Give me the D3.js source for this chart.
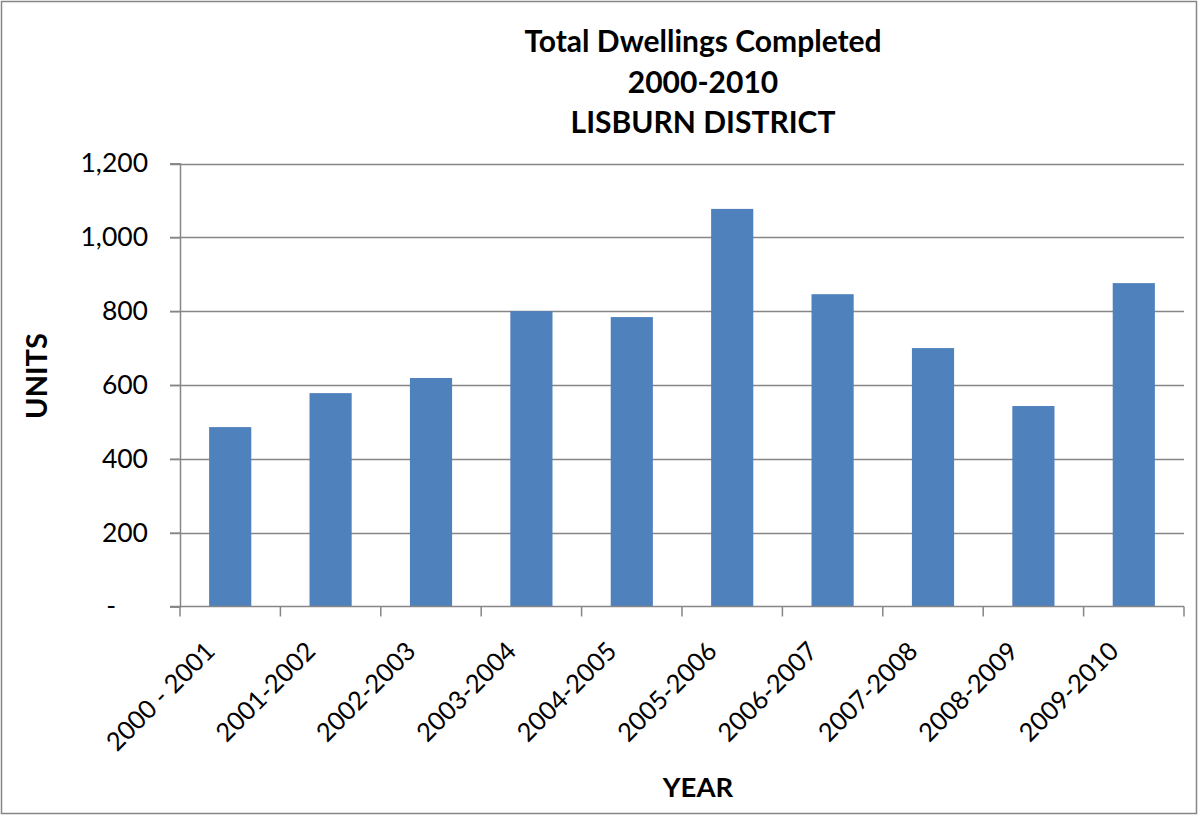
<!DOCTYPE html>
<html><head><meta charset="utf-8">
<script src="https://cdn.jsdelivr.net/npm/d3@7"></script>
<style>body{margin:0;background:#fff;} svg{display:block;} text{font-family:Lato, "Open Sans", sans-serif;}</style>
</head><body>
<svg id="c" width="1198" height="816"></svg>
<script>
const categories = ["2000 - 2001","2001-2002","2002-2003","2003-2004","2004-2005","2005-2006","2006-2007","2007-2008","2008-2009","2009-2010"];
const values = [486, 578, 619, 800, 784, 1077, 846, 700, 543, 876];
const yTicks = [0, 200, 400, 600, 800, 1000, 1200];
const titleLines = ["Total Dwellings Completed", "2000-2010", "LISBURN DISTRICT"];

const svg = d3.select("#c");
const m = {l:180, r:1184, t:163.5, b:606.5};
const gray = "#868686";

svg.append("rect").attr("x",1.5).attr("y",1.5).attr("width",1195).attr("height",812)
  .attr("fill","#fff").attr("stroke",gray).attr("stroke-width",1.5);

const x = d3.scaleBand().domain(categories).range([m.l, m.r]).paddingInner(0.58).paddingOuter(0.29);
const y = d3.scaleLinear().domain([0,1200]).range([m.b, m.t]);

// gridlines
svg.append("g").selectAll("line").data(yTicks.filter(d=>d>0)).join("line")
  .attr("x1", m.l-10).attr("x2", m.r).attr("y1", d=>Math.round(y(d))+0.5).attr("y2", d=>Math.round(y(d))+0.5)
  .attr("stroke", gray).attr("stroke-width",1.5);

// bars
svg.append("g").selectAll("rect").data(values).join("rect")
  .attr("x",(d,i)=>x(categories[i])).attr("width",x.bandwidth())
  .attr("y",d=>y(d)).attr("height",d=>y(0)-y(d)).attr("fill","#4F81BD");

// y axis
const yAxis = d3.axisLeft(y).tickValues(yTicks).tickSize(10).tickPadding(12)
  .tickFormat(d=> d===0 ? "-" : d3.format(",")(d));
const gy = svg.append("g").attr("transform",`translate(${m.l},0)`).call(yAxis);
gy.select(".domain").attr("stroke",gray).attr("stroke-width",1.5);
gy.selectAll(".tick line").attr("stroke",gray).attr("stroke-width",1.5);
gy.selectAll(".tick text").attr("font-size",26.5).attr("fill","#000").attr("font-family","Lato")
  .attr("dx", d=> d===0 ? -42 : -10);

// x axis
const boundaries = d3.range(categories.length+1).map(i=> m.l + i*(m.r-m.l)/categories.length);
svg.append("line").attr("x1",m.l-10).attr("x2",m.r).attr("y1",m.b).attr("y2",m.b).attr("stroke",gray).attr("stroke-width",1.5);
svg.append("g").selectAll("line").data(boundaries).join("line")
  .attr("x1",d=>d).attr("x2",d=>d).attr("y1",m.b).attr("y2",m.b+10).attr("stroke",gray).attr("stroke-width",1.5);

svg.append("g").selectAll("text").data(categories).join("text")
  .attr("transform", d=>`translate(${x(d)+x.bandwidth()/2-20},${m.b+40}) rotate(-45)`)
  .attr("text-anchor","end").attr("dy","0.35em")
  .attr("font-size",25.5).attr("fill","#000").text(d=>d);

// title
svg.append("g").selectAll("text").data(titleLines).join("text")
  .attr("x",703).attr("y",(d,i)=>52+i*40.5).attr("text-anchor","middle")
  .attr("font-size",30).attr("font-weight","bold").attr("fill","#000").text(d=>d);

// axis titles
svg.append("text").attr("x",698).attr("y",797).attr("text-anchor","middle")
  .attr("font-size",27.5).attr("font-weight","bold").text("YEAR");
svg.append("text").attr("transform","translate(47,376) rotate(-90)").attr("text-anchor","middle")
  .attr("font-size",29).attr("font-weight","bold").text("UNITS");
</script>
</body></html>
